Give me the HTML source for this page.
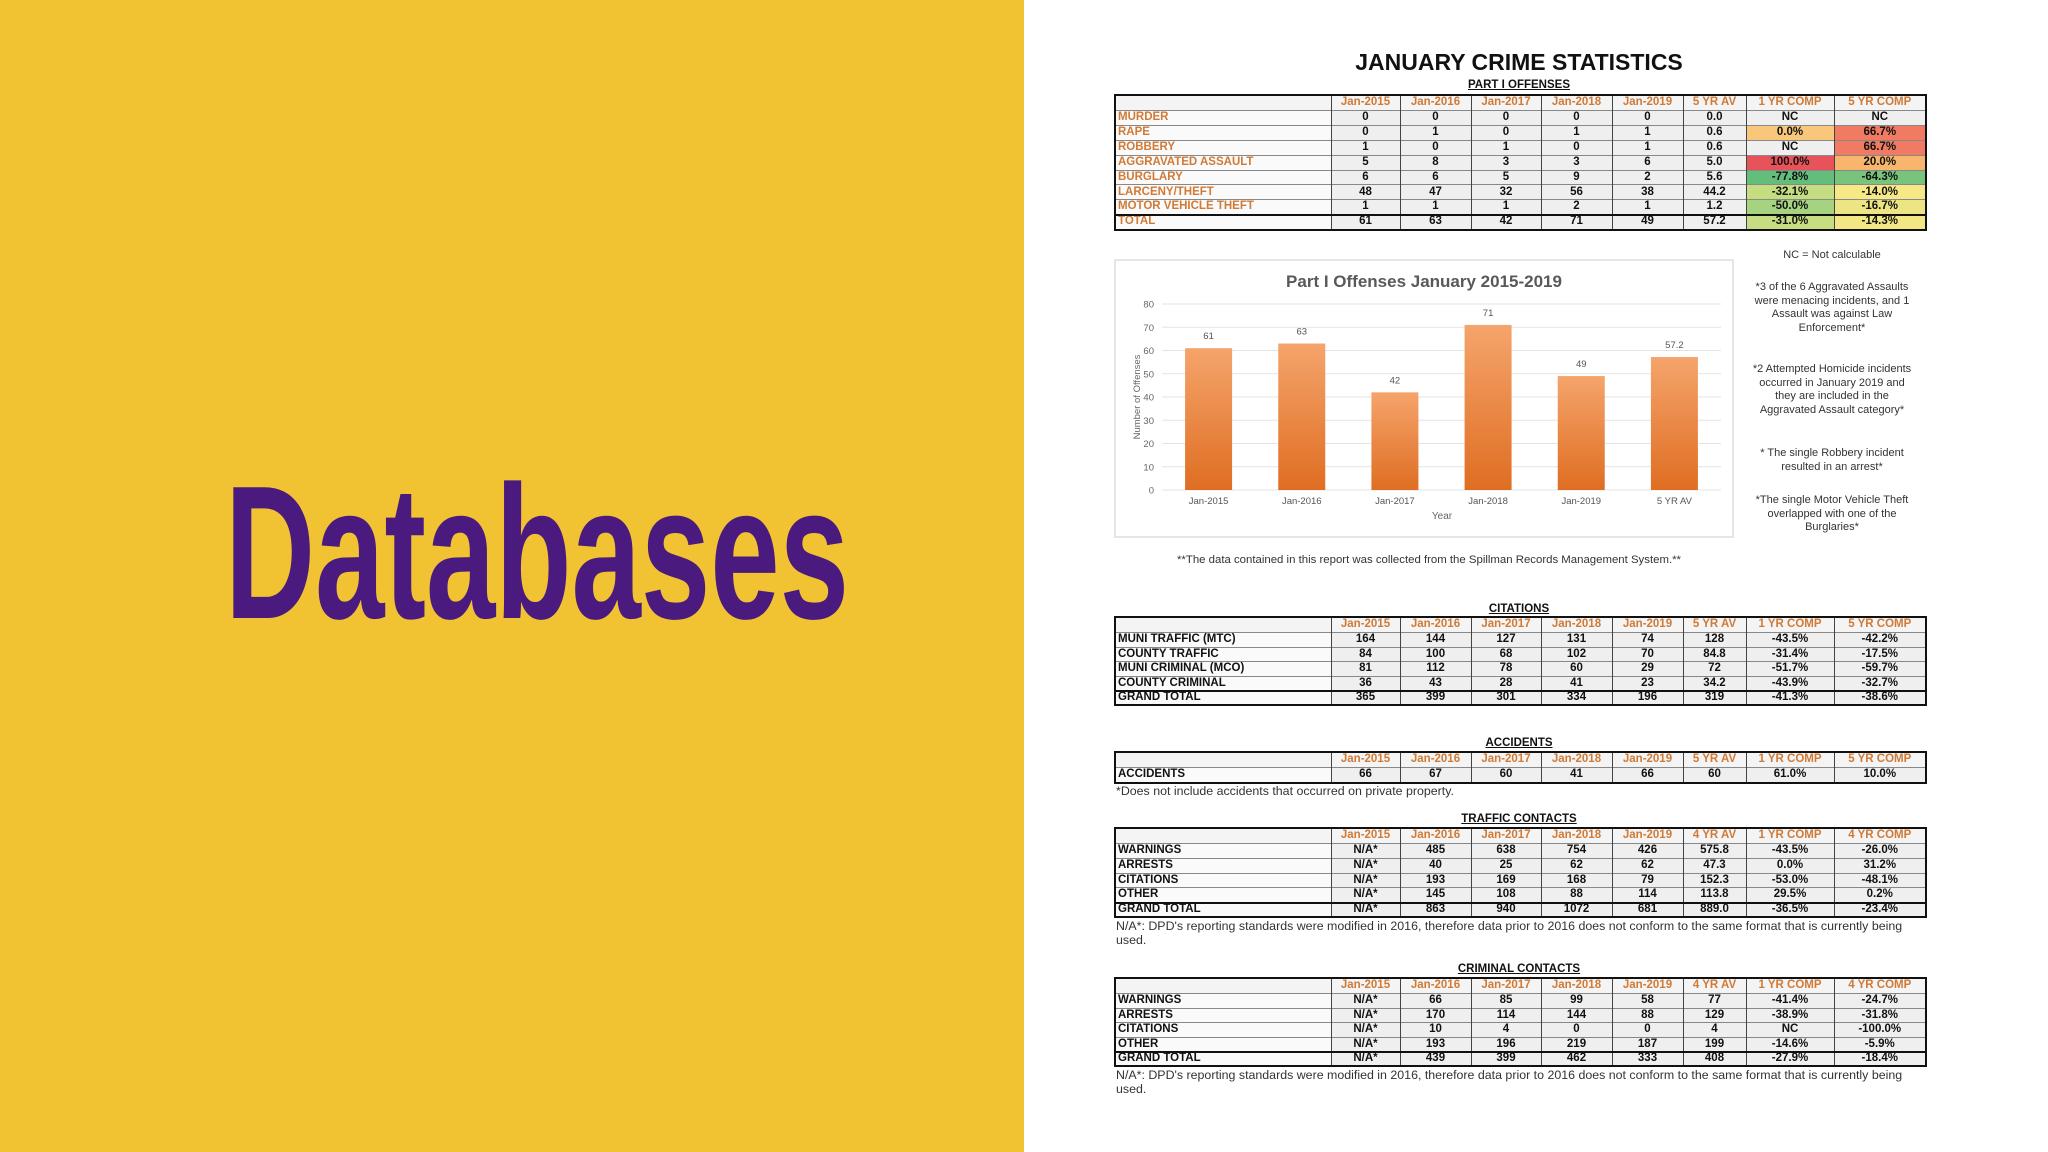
<!DOCTYPE html>
<html><head><meta charset="utf-8">
<style>
html,body{margin:0;padding:0}
body{width:2048px;height:1152px;position:relative;overflow:hidden;background:#fff;font-family:"Liberation Sans Narrow","Liberation Sans",sans-serif}
#left{position:absolute;left:0;top:0;width:1024px;height:1152px;background:#F1C232}
.abs{position:absolute}
.ttl{position:absolute;left:1114px;width:810px;text-align:center;font-weight:bold;font-size:11.5px;text-decoration:underline;color:#111}
table.t{position:absolute;left:1114px;border-collapse:collapse;border:2.5px solid #111;table-layout:fixed;font-weight:bold;font-size:11.5px}
table.t td{border-left:1px solid #444;border-top:1px solid #888;padding:0 2px;text-align:center;background:#efefef;color:#111;overflow:hidden;white-space:nowrap;line-height:1}
table.t td.lab{text-align:left;background:#fafafa}
table.t tr.hd td{color:#D07A36;background:#f4f4f4}
table.t tr.tot td{border-top:2.5px solid #111}
.note{position:absolute;font-family:"Liberation Sans",sans-serif;font-size:11px;color:#333;text-align:center;line-height:13.5px}
.fn{position:absolute;left:1116px;font-family:"Liberation Sans",sans-serif;font-size:12.4px;color:#333;line-height:14px;white-space:nowrap}
</style></head>
<body>
<div id="left">
<svg width="1024" height="1152" style="position:absolute;left:0;top:0">
<text x="225" y="618" textLength="624" lengthAdjust="spacingAndGlyphs" font-family="Liberation Sans Narrow, Liberation Sans, sans-serif" font-weight="bold" font-size="190" fill="#4A1A7E">Databases</text>
</svg>
</div>

<div class="abs" style="left:1114px;width:810px;top:49px;text-align:center;font-family:'Liberation Sans',sans-serif;font-weight:bold;font-size:23px;color:#111">JANUARY CRIME STATISTICS</div>
<div class="ttl" style="top:79px">PART I OFFENSES</div>
<div class="ttl" style="top:603px">CITATIONS</div>
<div class="ttl" style="top:737px">ACCIDENTS</div>
<div class="ttl" style="top:813px">TRAFFIC CONTACTS</div>
<div class="ttl" style="top:963px">CRIMINAL CONTACTS</div>

<div class="note" style="left:1742px;width:180px;top:249px">NC = Not calculable</div>
<div class="note" style="left:1742px;width:180px;top:281px">*3 of the 6 Aggravated Assaults<br>were menacing incidents, and 1<br>Assault was against Law<br>Enforcement*</div>
<div class="note" style="left:1742px;width:180px;top:363px">*2 Attempted Homicide incidents<br>occurred in January 2019 and<br>they are included in the<br>Aggravated Assault category*</div>
<div class="note" style="left:1742px;width:180px;top:447px">* The single Robbery incident<br>resulted in an arrest*</div>
<div class="note" style="left:1742px;width:180px;top:494px">*The single Motor Vehicle Theft<br>overlapped with one of the<br>Burglaries*</div>
<div class="note" style="left:1114px;width:630px;top:554px;font-size:11.4px">**The data contained in this report was collected from the Spillman Records Management System.**</div>

<svg id="chart" class="abs" style="left:0;top:0" width="2048" height="1152"></svg>

<div class="fn" style="top:784px">*Does not include accidents that occurred on private property.</div>
<div class="fn" style="top:919px">N/A*: DPD's reporting standards were modified in 2016, therefore data prior to 2016 does not conform to the same format that is currently being<br>used.</div>
<div class="fn" style="top:1068px">N/A*: DPD's reporting standards were modified in 2016, therefore data prior to 2016 does not conform to the same format that is currently being<br>used.</div>

<script>
// ---- chart data ----
const categories = ["Jan-2015","Jan-2016","Jan-2017","Jan-2018","Jan-2019","5 YR AV"];
const offenses = [61,63,42,71,49,57.2];
const valueLabels = ["61","63","42","71","49","57.2"];
const yTicks = [0,10,20,30,40,50,60,70,80];

const NS="http://www.w3.org/2000/svg";
const svg=document.getElementById('chart');
function mk(tag,attrs,parent){const e=document.createElementNS(NS,tag);for(const k in attrs)e.setAttribute(k,attrs[k]);(parent||svg).appendChild(e);return e;}
const X0=1162,X1=1721,Y0=490,Y1=304,YMAX=80;
const band=(X1-X0)/categories.length;
const xC=i=>X0+band*(i+0.5);
const yS=v=>Y0-(v/YMAX)*(Y0-Y1);
const defs=mk('defs',{});
const g=mk('linearGradient',{id:'barg',x1:0,y1:0,x2:0,y2:1},defs);
mk('stop',{offset:'0','stop-color':'#F5A46C'},g);mk('stop',{offset:'1','stop-color':'#DF6E22'},g);
let box=mk('rect',{x:1115,y:260,width:618,height:277,fill:'#fff',stroke:'#ddd','stroke-width':1.5});


let ct=mk('text',{x:1424,y:287,'text-anchor':'middle','font-family':'Liberation Sans Narrow, Liberation Sans, sans-serif','font-weight':'bold','font-size':17,fill:'#595959'});
ct.textContent='Part I Offenses January 2015-2019';


yTicks.forEach(t=>{
  const gl=mk('line',{x1:X0,x2:X1,y1:yS(t),y2:yS(t),stroke:'#e3e3e3','stroke-width':1});
  
  
  const tl=mk('text',{x:1154,y:yS(t)+3.5,'text-anchor':'end','font-family':'Liberation Sans, sans-serif','font-size':9.5,fill:'#666'});
  tl.textContent=String(t);
  
  
});
const bw=47;
categories.forEach((c,i)=>{
  const v=offenses[i];
  const r=mk('rect',{x:xC(i)-bw/2,y:yS(v),width:bw,height:Y0-yS(v),fill:'url(#barg)'});
  
  
  const vl=mk('text',{x:xC(i),y:yS(v)-9,'text-anchor':'middle','font-family':'Liberation Sans, sans-serif','font-size':9.5,fill:'#555'});
  vl.textContent=valueLabels[i];
  
  
  const xl=mk('text',{x:xC(i),y:504,'text-anchor':'middle','font-family':'Liberation Sans, sans-serif','font-size':9.5,fill:'#555'});
  xl.textContent=c;
  
  
});
let xt=mk('text',{x:1442,y:519,'text-anchor':'middle','font-family':'Liberation Sans, sans-serif','font-size':10,fill:'#666'});
xt.textContent='Year';


let yt=mk('text',{x:0,y:0,'text-anchor':'middle','font-family':'Liberation Sans, sans-serif','font-size':9.5,fill:'#666',transform:'translate(1140,397) rotate(-90)'});
yt.textContent='Number of Offenses';



// ---- tables ----
const colW=[216,69,71,70,71,71,63,88,92];
const hdr5=["","Jan-2015","Jan-2016","Jan-2017","Jan-2018","Jan-2019","5 YR AV","1 YR COMP","5 YR COMP"];
const hdr4=["","Jan-2015","Jan-2016","Jan-2017","Jan-2018","Jan-2019","4 YR AV","1 YR COMP","4 YR COMP"];
const part1Rows=[
["MURDER","0","0","0","0","0","0.0","NC","NC"],
["RAPE","0","1","0","1","1","0.6","0.0%","66.7%"],
["ROBBERY","1","0","1","0","1","0.6","NC","66.7%"],
["AGGRAVATED ASSAULT","5","8","3","3","6","5.0","100.0%","20.0%"],
["BURGLARY","6","6","5","9","2","5.6","-77.8%","-64.3%"],
["LARCENY/THEFT","48","47","32","56","38","44.2","-32.1%","-14.0%"],
["MOTOR VEHICLE THEFT","1","1","1","2","1","1.2","-50.0%","-16.7%"],
["TOTAL","61","63","42","71","49","57.2","-31.0%","-14.3%"]];
const part1Colors=[
[null,null],["#F8C77A","#F07A62"],[null,"#F07A62"],["#E8535B","#F7B56E"],
["#63BE7B","#78C47D"],["#C4DD80","#F6E884"],["#A6D380","#EDE583"],["#C6DE81","#F3E783"]];
const citRows=[
["MUNI TRAFFIC (MTC)","164","144","127","131","74","128","-43.5%","-42.2%"],
["COUNTY TRAFFIC","84","100","68","102","70","84.8","-31.4%","-17.5%"],
["MUNI CRIMINAL (MCO)","81","112","78","60","29","72","-51.7%","-59.7%"],
["COUNTY CRIMINAL","36","43","28","41","23","34.2","-43.9%","-32.7%"],
["GRAND TOTAL","365","399","301","334","196","319","-41.3%","-38.6%"]];
const accRows=[["ACCIDENTS","66","67","60","41","66","60","61.0%","10.0%"]];
const trafRows=[
["WARNINGS","N/A*","485","638","754","426","575.8","-43.5%","-26.0%"],
["ARRESTS","N/A*","40","25","62","62","47.3","0.0%","31.2%"],
["CITATIONS","N/A*","193","169","168","79","152.3","-53.0%","-48.1%"],
["OTHER","N/A*","145","108","88","114","113.8","29.5%","0.2%"],
["GRAND TOTAL","N/A*","863","940","1072","681","889.0","-36.5%","-23.4%"]];
const crimRows=[
["WARNINGS","N/A*","66","85","99","58","77","-41.4%","-24.7%"],
["ARRESTS","N/A*","170","114","144","88","129","-38.9%","-31.8%"],
["CITATIONS","N/A*","10","4","0","0","4","NC","-100.0%"],
["OTHER","N/A*","193","196","219","187","199","-14.6%","-5.9%"],
["GRAND TOTAL","N/A*","439","399","462","333","408","-27.9%","-18.4%"]];

function makeTable(name,top,hdr,rows,hH,rH,orangeLabels,colors,hasTotal){
  const t=document.createElement('table');
  t.className='t';
  
  
  t.style.top=top+'px';
  const cg=document.createElement('colgroup');
  colW.forEach(w=>{const c=document.createElement('col');c.style.width=w+'px';cg.appendChild(c);});
  t.appendChild(cg);
  const all=[hdr].concat(rows);
  all.forEach((r,ri)=>{
    const tr=document.createElement('tr');
    tr.style.height=(ri===0?hH:rH)+'px';
    if(ri===0)tr.className='hd';
    if(hasTotal&&ri===all.length-1)tr.className='tot';
    
    
    r.forEach((v,ci)=>{
      const td=document.createElement('td');
      td.textContent=v;
      
      
      if(ci===0){td.className='lab';if(orangeLabels&&ri>0)td.style.color='#D07A36';}
      if(colors&&ri>0&&ci>=7){const c=colors[ri-1][ci-7];if(c)td.style.background=c;}
      tr.appendChild(td);
    });
    t.appendChild(tr);
  });
  document.body.appendChild(t);
}
makeTable('part1-offenses-table',94,hdr5,part1Rows,15.5,14.9,true,part1Colors,true);
makeTable('citations-table',616,hdr5,citRows,15.5,14.6,false,null,true);
makeTable('accidents-table',751,hdr5,accRows,15.5,15.5,false,null,false);
makeTable('traffic-contacts-table',827,hdr4,trafRows,15.5,14.8,false,null,true);
makeTable('criminal-contacts-table',977,hdr4,crimRows,15.5,14.6,false,null,true);
</script>
</body></html>
